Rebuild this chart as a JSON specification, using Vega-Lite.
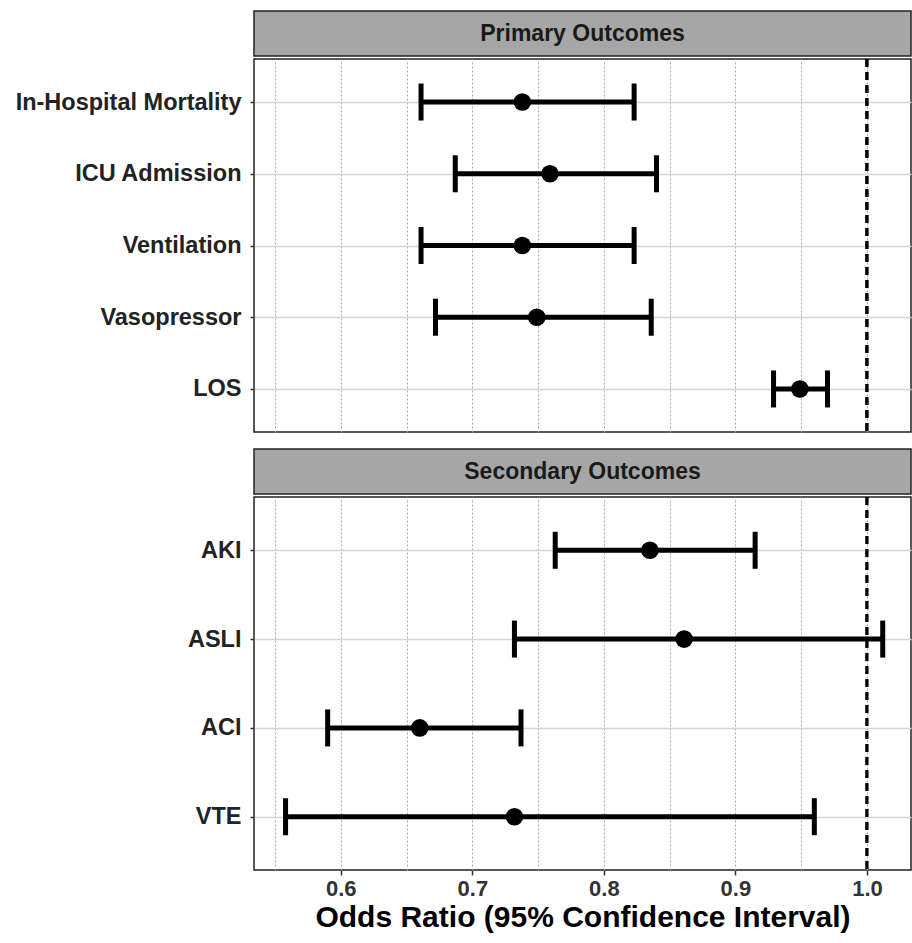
{
  "$schema": "https://vega.github.io/schema/vega-lite/v6.json",
  "padding": {"left": 0, "top": 10, "right": 2, "bottom": 0},
  "background": "white",
  "config": {
    "font": "Liberation Sans",
    "view": {"stroke": "#222", "strokeWidth": 1.5}
  },
  "datasets": {
    "d": [
      {"panel": "Primary Outcomes", "outcome": "In-Hospital Mortality", "or": 0.738, "lo": 0.661, "hi": 0.823},
      {"panel": "Primary Outcomes", "outcome": "ICU Admission", "or": 0.759, "lo": 0.687, "hi": 0.840},
      {"panel": "Primary Outcomes", "outcome": "Ventilation", "or": 0.738, "lo": 0.661, "hi": 0.823},
      {"panel": "Primary Outcomes", "outcome": "Vasopressor", "or": 0.749, "lo": 0.672, "hi": 0.836},
      {"panel": "Primary Outcomes", "outcome": "LOS", "or": 0.949, "lo": 0.929, "hi": 0.970},
      {"panel": "Secondary Outcomes", "outcome": "AKI", "or": 0.835, "lo": 0.763, "hi": 0.915},
      {"panel": "Secondary Outcomes", "outcome": "ASLI", "or": 0.861, "lo": 0.732, "hi": 1.012},
      {"panel": "Secondary Outcomes", "outcome": "ACI", "or": 0.660, "lo": 0.590, "hi": 0.737},
      {"panel": "Secondary Outcomes", "outcome": "VTE", "or": 0.732, "lo": 0.558, "hi": 0.960}
    ]
  },
  "spacing": 14,
  "vconcat": [
    {
      "spacing": 0,
      "vconcat": [
        {
          "width": 657, "height": 45,
          "data": {"name": "d"},
          "transform": [
            {"filter": "datum.panel == 'Primary Outcomes'"},
            {"aggregate": [{"op": "count", "as": "n"}], "groupby": ["panel"]}
          ],
          "view": {"fill": "#a6a6a6", "stroke": "#222", "strokeWidth": 1.5},
          "mark": {"type": "text", "fontSize": 23, "fontWeight": "bold", "color": "#1a1a1a", "baseline": "middle"},
          "encoding": {
            "text": {"field": "panel"},
            "y": {"field": "panel", "type": "nominal", "axis": {"labels": false, "ticks": false, "domain": false, "grid": false, "title": null, "minExtent": 253, "maxExtent": 253}}
          }
        },
        {
          "width": 657, "height": 373,
          "data": {"name": "d"},
          "transform": [{"filter": "datum.panel == 'Primary Outcomes'"}],
          "layer": [
            {
              "mark": {"type": "rule", "color": "black", "strokeDash": [8, 5], "strokeWidth": 2.5},
              "encoding": {
                "x": {"datum": 1, "type": "quantitative",
                  "scale": {"domain": [0.534, 1.0335], "nice": false, "zero": false},
                  "axis": {"values": [0.55, 0.6, 0.65, 0.7, 0.75, 0.8, 0.85, 0.9, 0.95, 1.0], "labels": false, "ticks": false, "domain": false, "title": null, "grid": true, "gridDash": [2, 2], "gridColor": "#a8a8a8", "gridWidth": 1, "minExtent": 0, "maxExtent": 0}
                }
              }
            },
            {
              "mark": {"type": "rule", "color": "black", "strokeWidth": 5},
              "encoding": {
                "x": {"field": "lo", "type": "quantitative"},
                "x2": {"field": "hi"},
                "y": {"field": "outcome", "type": "nominal", "sort": null, "scale": {"type": "point", "padding": 0.6},
                  "axis": {"title": null, "domain": false, "grid": true, "gridColor": "#d4d4d4", "gridWidth": 1.5, "tickSize": 4, "tickColor": "#333", "tickWidth": 1.5, "labelPadding": 9, "labelFontSize": 23.5, "labelFontWeight": "bold", "labelColor": "#222", "labelLimit": 300, "minExtent": 253, "maxExtent": 253}}
              }
            },
            {
              "mark": {"type": "tick", "color": "black", "size": 37, "thickness": 5, "opacity": 1},
              "encoding": {"x": {"field": "lo", "type": "quantitative"}, "y": {"field": "outcome", "type": "nominal", "sort": null}}
            },
            {
              "mark": {"type": "tick", "color": "black", "size": 37, "thickness": 5, "opacity": 1},
              "encoding": {"x": {"field": "hi", "type": "quantitative"}, "y": {"field": "outcome", "type": "nominal", "sort": null}}
            },
            {
              "mark": {"type": "point", "shape": "circle", "filled": true, "color": "black", "size": 310, "opacity": 1},
              "encoding": {"x": {"field": "or", "type": "quantitative"}, "y": {"field": "outcome", "type": "nominal", "sort": null}}
            }
          ]
        }
      ]
    },
    {
      "spacing": 0,
      "vconcat": [
        {
          "width": 657, "height": 45,
          "data": {"name": "d"},
          "transform": [
            {"filter": "datum.panel == 'Secondary Outcomes'"},
            {"aggregate": [{"op": "count", "as": "n"}], "groupby": ["panel"]}
          ],
          "view": {"fill": "#a6a6a6", "stroke": "#222", "strokeWidth": 1.5},
          "mark": {"type": "text", "fontSize": 23, "fontWeight": "bold", "color": "#1a1a1a", "baseline": "middle"},
          "encoding": {
            "text": {"field": "panel"},
            "y": {"field": "panel", "type": "nominal", "axis": {"labels": false, "ticks": false, "domain": false, "grid": false, "title": null, "minExtent": 253, "maxExtent": 253}}
          }
        },
        {
          "width": 657, "height": 373,
          "data": {"name": "d"},
          "transform": [{"filter": "datum.panel == 'Secondary Outcomes'"}],
          "layer": [
            {
              "mark": {"type": "rule", "color": "black", "strokeDash": [8, 5], "strokeWidth": 2.5},
              "encoding": {
                "x": {"datum": 1, "type": "quantitative",
                  "scale": {"domain": [0.534, 1.0335], "nice": false, "zero": false},
                  "axis": {"values": [0.55, 0.6, 0.65, 0.7, 0.75, 0.8, 0.85, 0.9, 0.95, 1.0], "format": ".1f",
                    "labelExpr": "abs(datum.value*10 - round(datum.value*10)) < 0.01 ? datum.label : ''",
                    "tickOpacity": {"condition": {"test": "abs(datum.value*10 - round(datum.value*10)) < 0.01", "value": 1}, "value": 0},
                    "title": "Odds Ratio (95% Confidence Interval)", "titleFontSize": 30, "titleFontWeight": "bold", "titleColor": "black", "titlePadding": 3,
                    "labelFontSize": 22, "labelFontWeight": "bold", "labelColor": "#333", "labelPadding": 3,
                    "tickSize": 5, "tickColor": "#333", "tickWidth": 1.5, "domain": false,
                    "grid": true, "gridDash": [2, 2], "gridColor": "#a8a8a8", "gridWidth": 1}
                }
              }
            },
            {
              "mark": {"type": "rule", "color": "black", "strokeWidth": 5},
              "encoding": {
                "x": {"field": "lo", "type": "quantitative"},
                "x2": {"field": "hi"},
                "y": {"field": "outcome", "type": "nominal", "sort": null, "scale": {"type": "point", "padding": 0.6},
                  "axis": {"title": null, "domain": false, "grid": true, "gridColor": "#d4d4d4", "gridWidth": 1.5, "tickSize": 4, "tickColor": "#333", "tickWidth": 1.5, "labelPadding": 9, "labelFontSize": 23.5, "labelFontWeight": "bold", "labelColor": "#222", "labelLimit": 300, "minExtent": 253, "maxExtent": 253}}
              }
            },
            {
              "mark": {"type": "tick", "color": "black", "size": 37, "thickness": 5, "opacity": 1},
              "encoding": {"x": {"field": "lo", "type": "quantitative"}, "y": {"field": "outcome", "type": "nominal", "sort": null}}
            },
            {
              "mark": {"type": "tick", "color": "black", "size": 37, "thickness": 5, "opacity": 1},
              "encoding": {"x": {"field": "hi", "type": "quantitative"}, "y": {"field": "outcome", "type": "nominal", "sort": null}}
            },
            {
              "mark": {"type": "point", "shape": "circle", "filled": true, "color": "black", "size": 310, "opacity": 1},
              "encoding": {"x": {"field": "or", "type": "quantitative"}, "y": {"field": "outcome", "type": "nominal", "sort": null}}
            }
          ]
        }
      ]
    }
  ]
}
